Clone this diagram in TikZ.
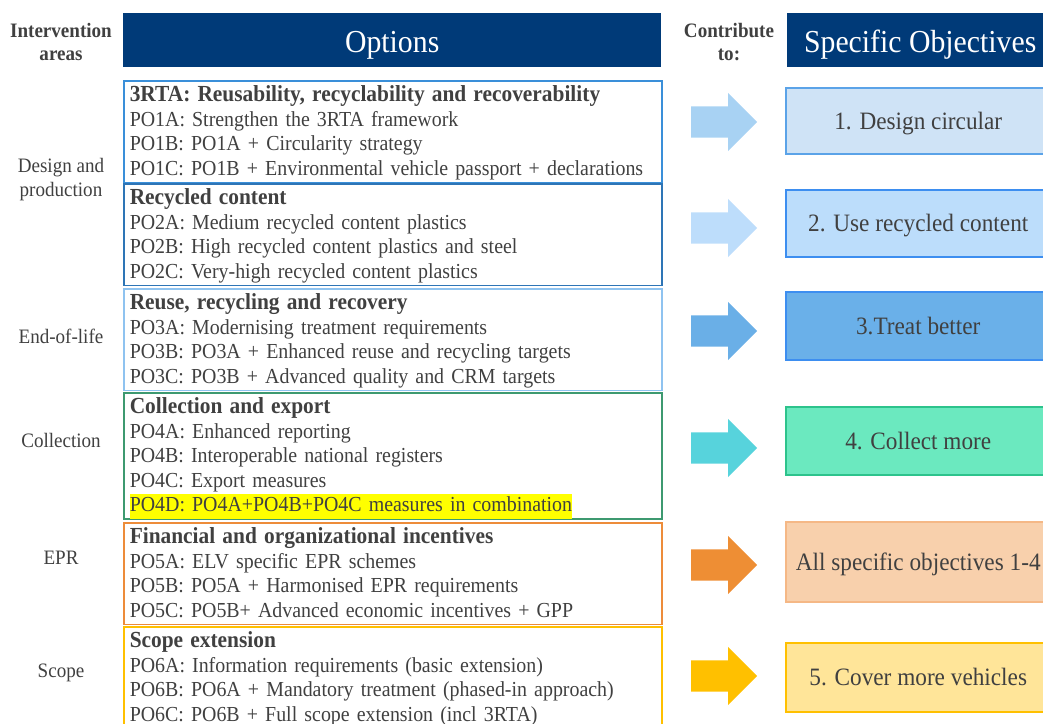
\documentclass[tikz,border=0pt]{standalone}
\usepackage{fontspec}
\setmainfont{Liberation Serif}[FakeStretch=0.93]
\usetikzlibrary{shapes.arrows}
\definecolor{navy}{HTML}{003A78}
\definecolor{ink}{HTML}{404040}
\definecolor{hl}{HTML}{FFFF00}
\definecolor{opt1}{HTML}{3A8FD9}
\definecolor{opt2}{HTML}{2E75B6}
\definecolor{opt3}{HTML}{8FC3F0}
\definecolor{opt4}{HTML}{3D9970}
\definecolor{opt5}{HTML}{ED8C3A}
\definecolor{opt6}{HTML}{FFC000}
\definecolor{ob1line}{HTML}{5BA3E8}
\definecolor{ob1fill}{HTML}{CFE3F6}
\definecolor{ob2line}{HTML}{3D8EF0}
\definecolor{ob2fill}{HTML}{BCDDFB}
\definecolor{ob3line}{HTML}{3D8EF0}
\definecolor{ob3fill}{HTML}{6AB0E9}
\definecolor{ob4line}{HTML}{2DC38C}
\definecolor{ob4fill}{HTML}{6BE9BF}
\definecolor{ob5line}{HTML}{F5B886}
\definecolor{ob5fill}{HTML}{F8D0AC}
\definecolor{ob6line}{HTML}{FFC000}
\definecolor{ob6fill}{HTML}{FFE599}
\definecolor{ar1}{HTML}{A8D2F3}
\definecolor{ar2}{HTML}{BDDDFB}
\definecolor{ar3}{HTML}{6AAFE7}
\definecolor{ar4}{HTML}{57D3DC}
\definecolor{ar5}{HTML}{EE8E34}
\definecolor{ar6}{HTML}{FFC000}
\setlength{\fboxsep}{0pt}
\newcommand\opttitle[1]{{\fontsize{23}{24.5}\selectfont\bfseries\rule{0pt}{20.85pt}#1}}
\tikzset{
  header/.style={fill=navy, text=white, anchor=north west, inner sep=0pt, minimum height=54, text height=26, text depth=2, font=\fontsize{32}{34}\selectfont},
  areatext/.style={text=ink, align=center, font=\fontsize{20.5}{24}\selectfont},
  colhead/.style={text=ink, align=center, font=\fontsize{20.5}{23}\selectfont\bfseries},
  optbox/.style={draw=#1, line width=1.5pt, anchor=north west, minimum height=100, text width=526, inner xsep=6, inner ysep=0pt, align=left, text=ink, font=\fontsize{21.4}{24.5}\selectfont},
  objbox/.style 2 args={draw=#1, fill=#2, line width=1.5pt, anchor=north west, minimum width=265, inner sep=0pt, text height=20, text depth=3, text=ink, font=\fontsize{25}{27}\selectfont},
  fatarrow/.style={single arrow, fill=#1, draw=none, anchor=tail, minimum height=66, minimum width=58, text height=15.5, text depth=15.5, single arrow head extend=13.5, inner sep=0pt}
}
\begin{document}
\begin{tikzpicture}[x=1pt, y=-1pt]
	\useasboundingbox (0,0) rectangle (1043,723);

	\node[colhead] (areas) at (61,42) {Intervention\\areas};
	\node[header, minimum width=538] (options) at (123,13) {Options};
	\node[colhead] (contrib) at (729,42) {Contribute\\to:};
	\node[header, minimum width=266] (objectives) at (787,13) {Specific Objectives};

	\node[areatext] (design) at (61,180) {Design and\\production};
	\node[areatext] (eol) at (61,336) {End-of-life};
	\node[areatext] (collection) at (61,440) {Collection};
	\node[areatext] (epr) at (61,558) {EPR};
	\node[areatext] (scope) at (61,673) {Scope};

	\node[optbox=opt1] (po1) at (123,80) {\opttitle{3RTA: Reusability, recyclability and recoverability}\\
		PO1A: Strengthen the 3RTA framework\\
		PO1B: PO1A + Circularity strategy\\
		PO1C: PO1B + Environmental vehicle passport + declarations\strut};
	\node[optbox=opt2, minimum height=101] (po2) at (123,183) {\opttitle{Recycled content}\\
		PO2A: Medium recycled content plastics\\
		PO2B: High recycled content plastics and steel\\
		PO2C: Very-high recycled content plastics\strut};
	\node[optbox=opt3] (po3) at (123,288) {\opttitle{Reuse, recycling and recovery}\\
		PO3A: Modernising treatment requirements\\
		PO3B: PO3A + Enhanced reuse and recycling targets\\
		PO3C: PO3B + Advanced quality and CRM targets\strut};
	\node[optbox=opt4, minimum height=126] (po4) at (123,392) {\opttitle{Collection and export}\\
		PO4A: Enhanced reporting\\
		PO4B: Interoperable national registers\\
		PO4C: Export measures\\
		\colorbox{hl}{\strut PO4D: PO4A+PO4B+PO4C measures in combination}};
	\node[optbox=opt5] (po5) at (123,522) {\opttitle{Financial and organizational incentives}\\
		PO5A: ELV specific EPR schemes\\
		PO5B: PO5A + Harmonised EPR requirements\\
		PO5C: PO5B+ Advanced economic incentives + GPP\strut};
	\node[optbox=opt6] (po6) at (123,626) {\opttitle{Scope extension}\\
		PO6A: Information requirements (basic extension)\\
		PO6B: PO6A + Mandatory treatment (phased-in approach)\\
		PO6C: PO6B + Full scope extension (incl 3RTA)\strut};

	\node[fatarrow=ar1] (a1) at (691,122) {};
	\node[fatarrow=ar2] (a2) at (691,228) {};
	\node[fatarrow=ar3] (a3) at (691,331) {};
	\node[fatarrow=ar4] (a4) at (691,448) {};
	\node[fatarrow=ar5] (a5) at (691,565) {};
	\node[fatarrow=ar6] (a6) at (691,676) {};

	\node[objbox={ob1line}{ob1fill}, minimum height=66] (so1) at (785,87) {1. Design circular};
	\node[objbox={ob2line}{ob2fill}, minimum height=67] (so2) at (785,189) {2. Use recycled content};
	\node[objbox={ob3line}{ob3fill}, minimum height=68] (so3) at (785,291) {3.Treat better};
	\node[objbox={ob4line}{ob4fill}, minimum height=68] (so4) at (785,406) {4. Collect more};
	\node[objbox={ob5line}{ob5fill}, minimum height=80] (so5) at (785,521) {All specific objectives 1-4};
	\node[objbox={ob6line}{ob6fill}, minimum height=69] (so6) at (785,642) {5. Cover more vehicles};
\end{tikzpicture}
\end{document}
